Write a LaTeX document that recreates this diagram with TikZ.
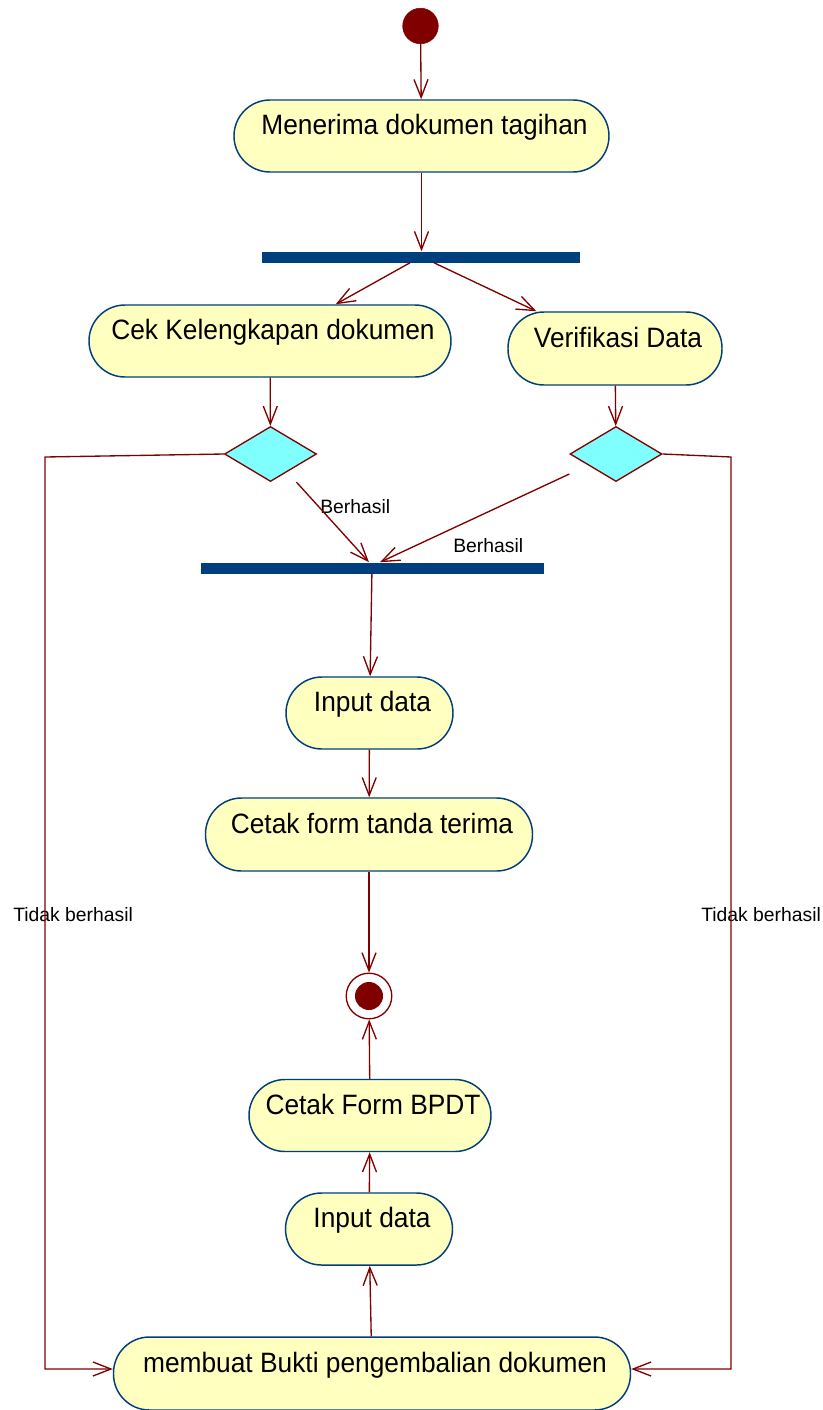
\documentclass[tikz,border=0pt]{standalone}
\usepackage{fontspec}
\setmainfont{Liberation Sans}
\newfontfamily\actfont[FakeStretch=0.94]{Liberation Sans}
\usetikzlibrary{arrows.meta,shapes.geometric,calc}

\definecolor{flowred}{RGB}{128,0,0}
\definecolor{actblue}{RGB}{0,63,125}
\definecolor{actfill}{RGB}{255,255,192}
\definecolor{decfill}{RGB}{128,255,255}

\tikzset{
  activity/.style={draw=actblue, line width=1.1pt, fill=actfill,
    rounded corners=27pt, inner sep=0pt,
    font=\actfont\fontsize{21pt}{25pt}\selectfont,
    text height=15pt, text depth=17.2pt,
    execute at begin node={\hspace*{4.5pt}}},
  forkbar/.style={fill=actblue, draw=none, inner sep=0pt,
    minimum height=8.25pt},
  decision/.style={diamond, draw=flowred, line width=1pt, fill=decfill,
    inner sep=0pt, minimum width=69pt, minimum height=41.25pt, aspect=1.67},
  flow/.style={draw=flowred, line width=1pt,
    -{Straight Barb[length=13.5pt,width=10.5pt,line width=1pt]}},
  guard/.style={font=\fontsize{14.5pt}{17pt}\selectfont, inner sep=0pt},
  initial/.style={circle, fill=flowred, draw=flowred, minimum size=26.7pt,
    inner sep=0pt},
  final/.style={circle, draw=flowred, line width=1pt, fill=white,
    minimum size=34.2pt, inner sep=0pt,
    path picture={\fill[flowred] (path picture bounding box.center)
      circle (10.5pt);}}
}

\begin{document}
\begin{tikzpicture}[x=0.75pt, y=-0.75pt]
\fill[white] (0,0) rectangle (823,1410);
\useasboundingbox (0,0) rectangle (823,1410);

% activities and control nodes
\node[initial] (start) at (420.5,26) {};
\node[activity, minimum width=281.25pt, minimum height=54pt]
  (terima) at (421.5,136) {Menerima dokumen tagihan};
\node[forkbar, minimum width=238.5pt] (fork1) at (421,257) {};
\node[activity, minimum width=271.5pt, minimum height=54pt]
  (cek) at (270,341) {Cek Kelengkapan dokumen};
\node[activity, minimum width=160.5pt, minimum height=54.75pt]
  (verif) at (615,348.5) {Verifikasi Data};
\node[decision] (d1) at (270.5,454) {};
\node[decision] (d2) at (616,454) {};
\node[forkbar, minimum width=257.25pt] (fork2) at (372,568) {};
\node[activity, minimum width=125.25pt, minimum height=54pt]
  (input1) at (369.5,713) {Input data};
\node[activity, minimum width=245.25pt, minimum height=54.75pt]
  (cetak1) at (369,834.5) {Cetak form tanda terima};
\node[final] (endn) at (369,996) {};
\node[activity, minimum width=181.5pt, minimum height=54pt]
  (bpdt) at (370,1115.5) {Cetak Form BPDT};
\node[activity, minimum width=125.25pt, minimum height=54pt]
  (input2) at (369,1229) {Input data};
\node[activity, minimum width=387.75pt, minimum height=54.75pt]
  (bukti) at (372,1373.5) {membuat Bukti pengembalian dokumen};

% guard labels
\node[guard, anchor=base west] (gok1) at (320,513) {Berhasil};
\node[guard, anchor=base west] (gok2) at (453,552) {Berhasil};
\node[guard, anchor=base west] (gno1) at (13,921.7) {Tidak berhasil};
\node[guard, anchor=base west] (gno2) at (701,921.7) {Tidak berhasil};

% helper points for the transitions
\coordinate (f1a) at ($(fork1.south)+(-11,0)$);
\coordinate (f1b) at ($(fork1.south)+(13,0)$);
\coordinate (b1s) at ($(d1.south)+(26,0)$);
\coordinate (b1e) at ($(fork2.north)+(-3,0)$);
\coordinate (b2s) at ($(d2.west)+(0,20)$);
\coordinate (b2e) at ($(fork2.north)+(8,0)$);
\coordinate (l1) at (45,457);
\coordinate (l2) at (45,1369);
\coordinate (r1) at (731,457);
\coordinate (r2) at (731,1369);

% transitions
\draw[flow] (start) -- (terima);
\draw[flow] (terima) -- (terima.south |- fork1.north);
\draw[flow] (f1a) -- (cek);
\draw[flow] (f1b) -- (verif);
\draw[flow] (cek) -- (d1);
\draw[flow] (verif) -- (d2);
\draw[flow] (b1s) -- (b1e);
\draw[flow] (b2s) -- (b2e);
\draw[flow] (d1.west) -- (l1) -- (l2) -- (l2 -| bukti.west);
\draw[flow] (d2.east) -- (r1) -- (r2) -- (r2 -| bukti.east);
\draw[flow] (fork2) -- (input1);
\draw[flow] (input1) -- (cetak1);
\draw[flow] (cetak1) -- (endn);
\draw[flow] (bpdt) -- (endn);
\draw[flow] (input2) -- (bpdt);
\draw[flow] (bukti) -- (input2);
\end{tikzpicture}
\end{document}
